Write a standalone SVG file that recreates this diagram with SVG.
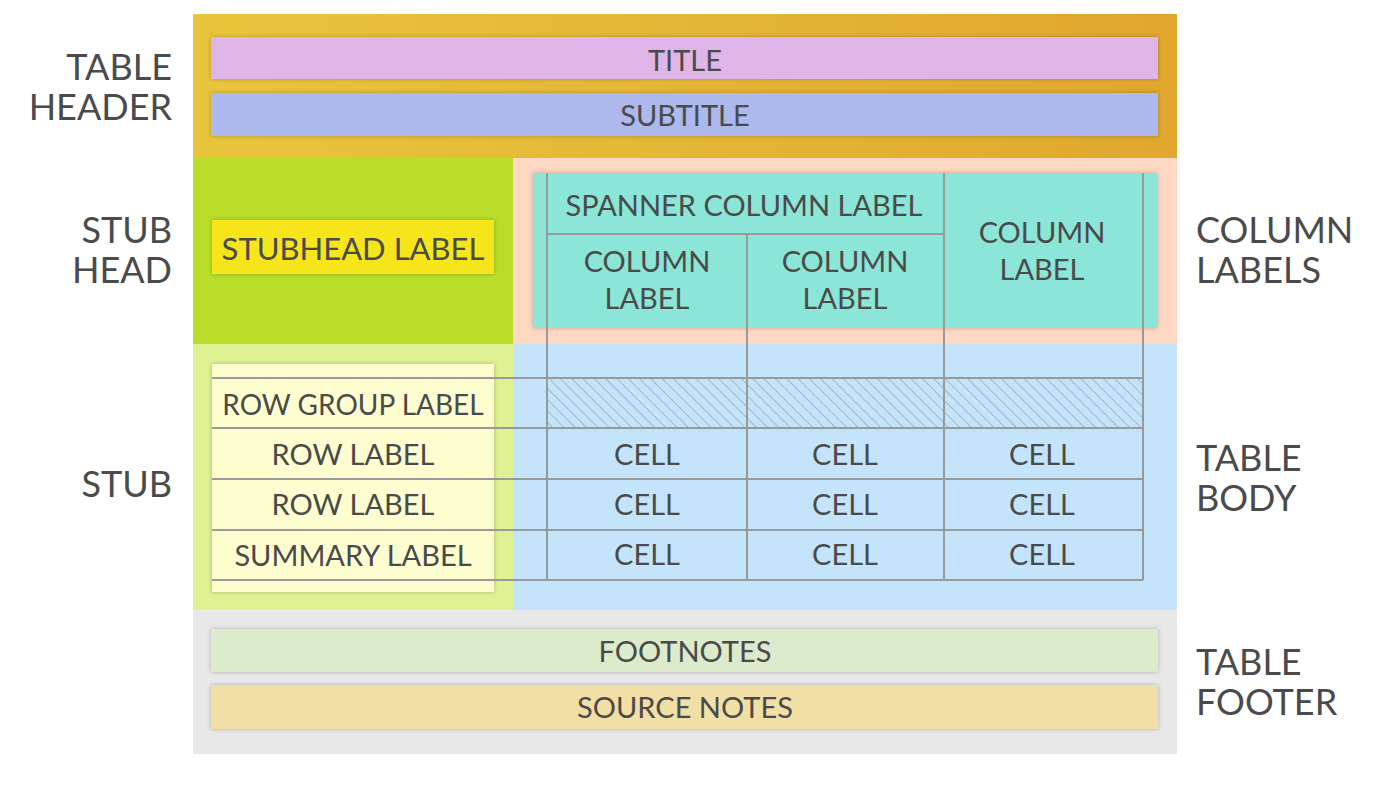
<svg xmlns="http://www.w3.org/2000/svg" width="1388" height="800" viewBox="0 0 1388 800">
<defs>
<linearGradient id="hdr" x1="0" y1="0" x2="1" y2="0"><stop offset="0" stop-color="#E9C53C"/><stop offset="1" stop-color="#E0A72E"/></linearGradient>
<filter id="sh" x="-5%" y="-20%" width="110%" height="140%"><feDropShadow dx="0" dy="0" stdDeviation="2" flood-color="#000" flood-opacity="0.25"/></filter>
<pattern id="hatch" patternUnits="userSpaceOnUse" width="8" height="8" patternTransform="rotate(-45)"><line x1="0" y1="0" x2="0" y2="8" stroke="#8a9aa8" stroke-width="1.2"/></pattern>
<style>
text{font-family:"Lato","Open Sans","Liberation Sans",sans-serif;fill:#4a4a4a;text-anchor:middle}
.big{font-size:36px}
.lt{text-anchor:end}
.rt{text-anchor:start}
.t{font-size:29px}
.g{stroke:#999;stroke-width:2;fill:none}
</style>
</defs>
<rect width="1388" height="800" fill="#fff"/>
<g id="table-header">
<rect x="193" y="14" width="984" height="144" fill="url(#hdr)"/>
<rect x="211" y="37" width="947" height="42" fill="#DFB5E8" filter="url(#sh)"/>
<text class="t" x="685" y="71">TITLE</text>
<rect x="211" y="93" width="947" height="43" fill="#ADB9EC" filter="url(#sh)"/>
<text class="t" x="685" y="126">SUBTITLE</text>
</g>
<g id="stub-head">
<rect x="193" y="158" width="320" height="186" fill="#B8DE2A"/>
<rect x="212" y="220" width="282" height="54" fill="#F7E51C" filter="url(#sh)"/>
<text class="t" x="353" y="260" style="font-size:31px">STUBHEAD LABEL</text>
</g>
<g id="column-labels">
<rect x="513" y="158" width="664" height="186" fill="#FFD8C4"/>
<rect x="533" y="173" width="624" height="155" fill="#8BE6D7" filter="url(#sh)"/>
<text class="t" x="744" y="216">SPANNER COLUMN LABEL</text>
<text class="t" x="647" y="272">COLUMN</text>
<text class="t" x="647" y="309">LABEL</text>
<text class="t" x="845" y="272">COLUMN</text>
<text class="t" x="845" y="309">LABEL</text>
<text class="t" x="1042" y="243">COLUMN</text>
<text class="t" x="1042" y="280">LABEL</text>
</g>
<g id="stub">
<rect x="193" y="344" width="320" height="266" fill="#DEF294"/>
<rect x="212" y="364" width="282" height="228" fill="#FDFDCF" filter="url(#sh)"/>
<text class="t" x="353" y="415" style="font-size:28px">ROW GROUP LABEL</text>
<text class="t" x="353" y="465">ROW LABEL</text>
<text class="t" x="353" y="515">ROW LABEL</text>
<text class="t" x="353" y="566">SUMMARY LABEL</text>
</g>
<g id="table-body">
<rect x="513" y="344" width="664" height="266" fill="#C4E4FC"/>
<rect x="547" y="378" width="596" height="50" fill="url(#hatch)"/>
<text class="t" x="647" y="465">CELL</text>
<text class="t" x="845" y="465">CELL</text>
<text class="t" x="1042" y="465">CELL</text>
<text class="t" x="647" y="515">CELL</text>
<text class="t" x="845" y="515">CELL</text>
<text class="t" x="1042" y="515">CELL</text>
<text class="t" x="647" y="565">CELL</text>
<text class="t" x="845" y="565">CELL</text>
<text class="t" x="1042" y="565">CELL</text>
</g>
<g id="table-footer">
<rect x="193" y="610" width="984" height="144" fill="#E8E8E8"/>
<rect x="211" y="629" width="947" height="43" fill="#DCEBCB" filter="url(#sh)"/>
<text class="t" x="685" y="662">FOOTNOTES</text>
<rect x="211" y="685" width="947" height="44" fill="#F2DFA6" filter="url(#sh)"/>
<text class="t" x="685" y="718">SOURCE NOTES</text>
</g>
<g id="grid-lines">
<path class="g" d="M547 173V580M747 234V580M944 173V580M1143 173V580M547 234H944M212 378H1143M212 428H1143M212 479H1143M212 530H1143M212 580H1143"/>
</g>
<g id="section-labels">
<text class="big lt" x="172" y="80">TABLE</text>
<text class="big lt" x="172" y="120">HEADER</text>
<text class="big lt" x="172" y="243">STUB</text>
<text class="big lt" x="172" y="283">HEAD</text>
<text class="big lt" x="172" y="497">STUB</text>
<text class="big rt" x="1196" y="243">COLUMN</text>
<text class="big rt" x="1196" y="283">LABELS</text>
<text class="big rt" x="1196" y="471">TABLE</text>
<text class="big rt" x="1196" y="511">BODY</text>
<text class="big rt" x="1196" y="675">TABLE</text>
<text class="big rt" x="1196" y="715">FOOTER</text>
</g>
</svg>
